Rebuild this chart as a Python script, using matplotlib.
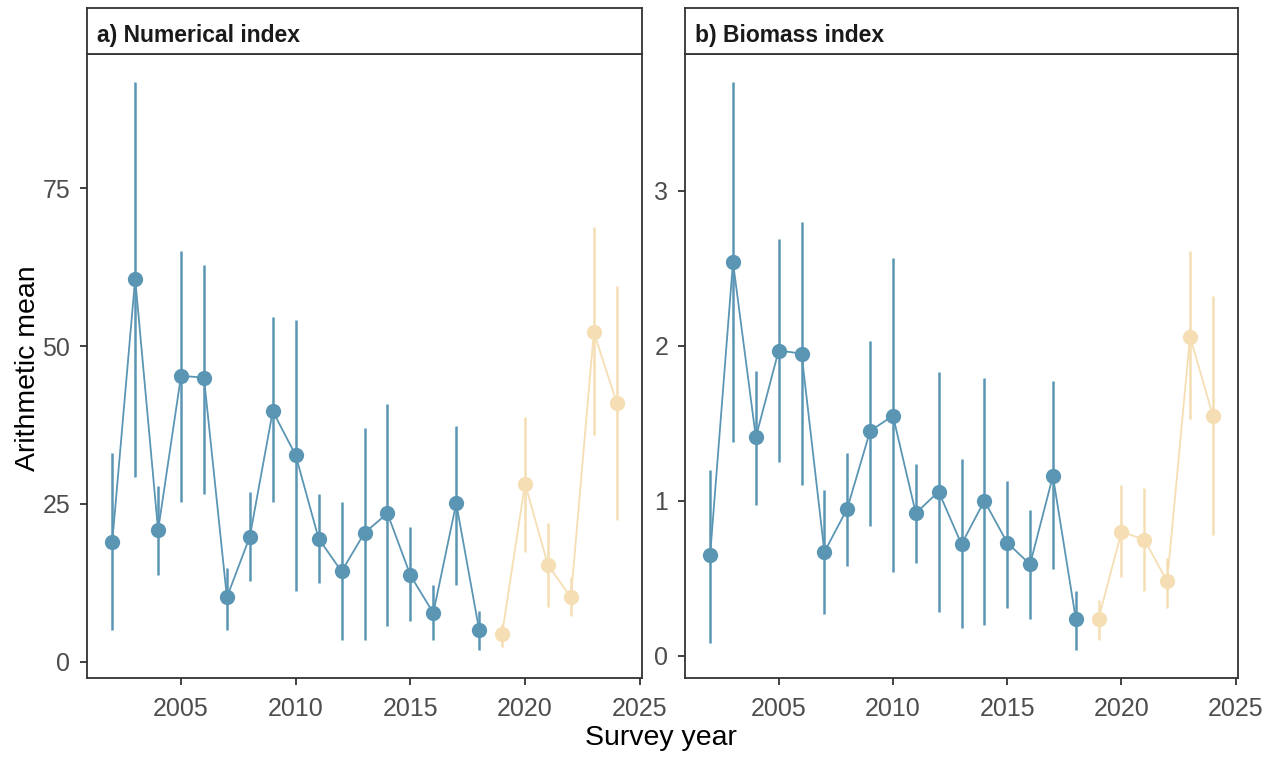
import matplotlib
matplotlib.use("Agg")
import matplotlib.pyplot as plt
import numpy as np

plt.rcParams['font.family'] = ['Liberation Sans', 'DejaVu Sans']

years = [2002, 2003, 2004, 2005, 2006, 2007, 2008, 2009, 2010, 2011, 2012, 2013,
         2014, 2015, 2016, 2017, 2018, 2019, 2020, 2021, 2022, 2023, 2024]
split_year = 2019  # years from here on drawn in the second colour

num_mean = [18.9, 60.7, 20.8, 45.3, 45.0, 10.2, 19.8, 39.7, 32.7, 19.5, 14.3, 20.4,
            23.5, 13.7, 7.7, 25.1, 5.0, 4.4, 28.2, 15.3, 10.2, 52.2, 41.0]
num_low = [5.0, 29.2, 13.8, 25.3, 26.6, 5.0, 12.7, 25.3, 11.2, 12.5, 3.5, 3.5,
           5.7, 6.4, 3.4, 12.2, 1.9, 2.3, 17.4, 8.6, 7.3, 35.9, 22.4]
num_high = [33.0, 91.8, 27.8, 65.1, 62.9, 14.8, 26.9, 54.6, 54.2, 26.5, 25.3, 37.1,
            40.9, 21.3, 12.1, 37.4, 8.1, 6.0, 38.7, 22.0, 13.4, 68.9, 59.6]

bio_mean = [0.65, 2.54, 1.41, 1.97, 1.95, 0.67, 0.95, 1.45, 1.55, 0.92, 1.06, 0.72,
            1.00, 0.73, 0.59, 1.16, 0.24, 0.24, 0.80, 0.75, 0.48, 2.06, 1.55]
bio_low = [0.08, 1.38, 0.97, 1.25, 1.10, 0.27, 0.58, 0.84, 0.54, 0.60, 0.28, 0.18,
           0.20, 0.31, 0.24, 0.56, 0.04, 0.10, 0.51, 0.42, 0.31, 1.53, 0.78]
bio_high = [1.20, 3.70, 1.84, 2.69, 2.80, 1.07, 1.31, 2.03, 2.57, 1.24, 1.83, 1.27,
            1.79, 1.13, 0.94, 1.77, 0.42, 0.36, 1.10, 1.08, 0.63, 2.61, 2.32]

panel_titles = ["a) Numerical index", "b) Biomass index"]
x_ticks = [2005, 2010, 2015, 2020, 2025]
y_ticks_a = [0, 25, 50, 75]
y_ticks_b = [0, 1, 2, 3]

col_old = "#5A96B4"
col_new = "#F5DEB3"
border_col = "#333333"
tick_col = "#4D4D4D"

W, H = 1264, 760
fig = plt.figure(figsize=(W / 100, H / 100), dpi=100)


def frac(x0, y0, x1, y1):
    return [x0 / W, 1 - y1 / H, (x1 - x0) / W, (y1 - y0) / H]


def draw_panel(px0, px1, mean, low, high, yticks, title):
    ax = fig.add_axes(frac(px0, 54, px1, 678))
    yrs = np.array(years)
    m = np.array(mean)
    lo = np.array(low)
    hi = np.array(high)
    for mask, col in [(yrs < split_year, col_old), (yrs >= split_year, col_new)]:
        ax.vlines(yrs[mask], lo[mask], hi[mask], color=col, lw=1.8, zorder=2)
        ax.plot(yrs[mask], m[mask], color=col, lw=1.3, zorder=3)
        ax.plot(yrs[mask], m[mask], 'o', color=col, ms=11, mec='none', zorder=4)
    span = max(high) - min(low)
    ax.set_ylim(min(low) - 0.05 * span, max(high) + 0.05 * span)
    ax.set_xlim(2002 - 0.05 * 22, 2024 + 0.05 * 22)
    ax.set_xticks(x_ticks)
    ax.set_yticks(yticks)
    for s in ax.spines.values():
        s.set_color(border_col)
        s.set_linewidth(1.3)
    ax.tick_params(axis='both', colors=border_col, labelcolor=tick_col,
                   labelsize=18, length=5, width=1.3)
    ax.tick_params(axis='x', pad=9)
    ax.tick_params(axis='y', pad=7)
    # strip
    sax = fig.add_axes(frac(px0, 8, px1, 54))
    sax.set_xticks([])
    sax.set_yticks([])
    for s in sax.spines.values():
        s.set_color(border_col)
        s.set_linewidth(1.3)
    sax.text(10 / (px1 - px0), 0.40, title, transform=sax.transAxes,
             ha='left', va='center', fontsize=16.5, fontweight='bold', color='#1A1A1A')
    return ax


ax_a = draw_panel(87, 642, num_mean, num_low, num_high, y_ticks_a, panel_titles[0])
ax_b = draw_panel(685, 1238, bio_mean, bio_low, bio_high, y_ticks_b, panel_titles[1])

fig.text(28 / W, 1 - 368 / H, "Arithmetic mean", rotation=90, ha='center', va='center',
         fontsize=20.5, color='black')
fig.text(661 / W, 1 - 738 / H, "Survey year", ha='center', va='center',
         fontsize=20.5, color='black')

fig.savefig("out.png", dpi=100)
